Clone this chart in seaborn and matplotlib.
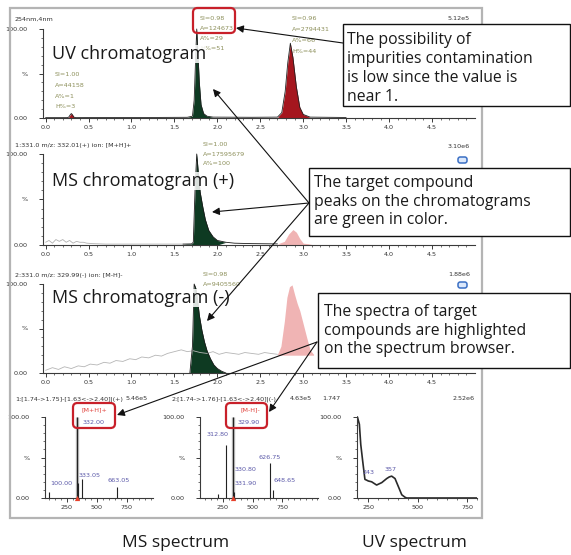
import numpy as np
import matplotlib
matplotlib.use("Agg")
import matplotlib.pyplot as plt
import seaborn as sns
from matplotlib.patches import FancyBboxPatch, Rectangle, FancyArrowPatch

# ---------------- data ----------------
time_ticks = [0.0, 0.5, 1.0, 1.5, 2.0, 2.5, 3.0, 3.5, 4.0, 4.5]
time_labels = ["0.0", "0.5", "1.0", "1.5", "2.0", "2.5", "3.0", "3.5", "4.0", "4.5"]
pct_ticks = [0, 50, 100]
pct_labels = ["0.00", "%", "100.00"]

# UV chromatogram (254 nm)
uv_time = [0.00, 0.25, 0.27, 0.29, 0.30, 0.31, 0.33, 0.35, 0.70, 1.20, 1.65, 1.71, 1.73, 1.75, 1.76,
           1.77, 1.79, 1.81, 1.84, 1.88, 1.95, 2.40, 2.70, 2.75, 2.79, 2.82, 2.85, 2.88, 2.92, 2.96,
           3.00, 3.08, 3.50]
uv_int = [0.4, 0.4, 1.0, 4.0, 5.0, 4.0, 1.0, 0.4, 0.6, 0.6, 0.8, 2.0, 20, 75, 100,
          80, 40, 15, 5, 2, 1, 0.8, 1.0, 6, 30, 62, 84, 68, 35, 12,
          4, 1, 0.6]

# MS chromatogram (+)
pos_time = [0.00, 0.04, 0.08, 0.12, 0.16, 0.20, 0.24, 0.28, 0.32, 0.36, 0.40, 0.44, 0.48, 0.55,
            0.70, 1.00, 1.30, 1.60, 1.70, 1.72, 1.74, 1.76, 1.78, 1.80, 1.83, 1.86, 1.90, 1.95,
            2.00, 2.10, 2.20, 2.40, 2.70, 2.78, 2.83, 2.88, 2.92, 2.96, 3.00, 3.10]
pos_int = [3, 5, 2, 6, 4, 6, 3, 5, 2, 4, 3, 3, 2, 1.5,
           1, 1, 1, 1, 1.2, 3, 60, 100, 78, 58, 42, 28, 16, 9,
           5, 3, 2, 1.5, 1.2, 4, 12, 17, 14, 7, 2, 1]

# MS chromatogram (-): background trace, target peak, second peak
neg_base_time = [0.00, 0.08, 0.15, 0.22, 0.30, 0.38, 0.45, 0.52, 0.60, 0.68, 0.75, 0.82, 0.90,
                 0.98, 1.05, 1.12, 1.20, 1.28, 1.35, 1.42, 1.50, 1.58, 1.65, 1.72, 1.80, 1.88,
                 1.95, 2.02, 2.10, 2.18, 2.25, 2.32, 2.40, 2.48, 2.55, 2.62, 2.70]
neg_base_int = [3, 6, 4, 7, 5, 8, 7, 10, 9, 12, 11, 14, 13,
                16, 15, 18, 17, 20, 19, 22, 24, 26, 24, 25, 23, 22,
                24, 21, 23, 22, 21, 23, 22, 21, 23, 22, 21]
neg_peak_time = [1.68, 1.71, 1.73, 1.75, 1.77, 1.79, 1.82, 1.85, 1.88, 1.92, 1.96, 2.00, 2.05, 2.10]
neg_peak_int = [0, 30, 100, 95, 82, 65, 48, 35, 25, 16, 9, 5, 2, 0]
neg_pink_time = [2.70, 2.74, 2.78, 2.81, 2.84, 2.87, 2.90, 2.93, 2.96, 3.00, 3.04, 3.08, 3.12]
neg_pink_int = [21, 30, 58, 85, 97, 99, 88, 78, 70, 55, 40, 26, 21]

# MS spectra
ms_pos_mz = [100, 332, 342, 372, 663]
ms_pos_int = [8, 100, 19, 23, 14]
ms_neg_mz = [208, 275, 338, 346, 652, 670]
ms_neg_int = [5, 65, 100, 8, 43, 10]
ms_ticks = [250, 500, 750]

# UV spectrum
uv_nm = [196, 206, 213, 223, 234, 243, 251, 268, 293, 319, 344, 357, 369, 386, 403, 420, 436, 445, 800]
uv_abs = [100, 91, 66, 45, 23, 22, 21, 20, 16, 19, 24, 26, 27, 24, 14, 4, 1, 0, 0]

# ---------------- figure ----------------
W, H = 571, 555
sns.set_theme(style="white")
plt.rcParams["font.family"] = ["DejaVu Sans"]
fig = plt.figure(figsize=(W / 100, H / 100), dpi=100)
fig.patch.set_facecolor("white")

GREEN = "#0e3a22"
RED = "#a5161e"
PINK = "#f0b4b4"
AXC = "#3a3a3a"
OLIVE = "#8c8f5a"
BLUE = "#5a58a8"
BOXRED = "#c8202a"
BIG = ["Open Sans", "DejaVu Sans"]


def P(x, y):
    return (x / W, 1 - y / H)


def add_ax(left, right, y0, y100, top_val=102.5):
    top = y0 - top_val * (y0 - y100) / 100.0
    ax = fig.add_axes([left / W, 1 - y0 / H, (right - left) / W, (y0 - top) / H])
    ax.set_ylim(0, top_val)
    ax.set_facecolor("none")
    return ax


def style(ax, xlim, xticks, xlabels, xminor):
    ax.set_xlim(*xlim)
    for s in ["top", "right"]:
        ax.spines[s].set_visible(False)
    for s in ["left", "bottom"]:
        ax.spines[s].set_color(AXC)
        ax.spines[s].set_linewidth(0.8)
    ax.spines["left"].set_bounds(0, 100)
    ax.set_xticks(xticks)
    ax.set_xticklabels(xlabels)
    ax.set_xticks(xminor, minor=True)
    ax.set_yticks(pct_ticks)
    ax.set_yticklabels(pct_labels)
    ax.set_yticks(list(range(0, 101, 10)), minor=True)
    ax.tick_params(which="major", length=3, width=0.7, color=AXC, labelsize=4.6,
                   labelcolor="#333333", left=True, bottom=True)
    ax.tick_params(which="minor", length=1.6, width=0.5, color=AXC, left=True, bottom=True)
    ax.tick_params(axis="x", pad=2)
    ax.tick_params(axis="y", pad=8)
    ax.set_xlabel("")
    ax.set_ylabel("")


def ftxt(x, y, s, **kw):
    kw.setdefault("fontsize", 4.6)
    kw.setdefault("va", "center")
    return fig.text(x / W, 1 - y / H, s, **kw)


chrom_minor = [i / 10 for i in range(0, 50)]

# ---- UV chromatogram ----
ax1 = add_ax(43, 475, 118, 29)
t = np.asarray(uv_time); y = np.asarray(uv_int)
for a, b, c in [(0.26, 0.34, RED), (1.70, 1.92, GREEN), (2.72, 3.05, RED)]:
    ax1.fill_between(t, y, 0, where=(t >= a) & (t <= b), color=c, lw=0, interpolate=True)
sns.lineplot(x=uv_time, y=uv_int, ax=ax1, color="#222222", linewidth=0.6,
             estimator=None, sort=False, legend=False)
style(ax1, (-0.03, 5.0), time_ticks, time_labels, chrom_minor)

# ---- MS chromatogram (+) ----
ax2 = add_ax(43, 475, 245, 154)
t = np.asarray(pos_time); y = np.asarray(pos_int)
ax2.fill_between(t, y, 0, where=(t >= 1.70) & (t <= 2.02), color=GREEN, lw=0, interpolate=True)
ax2.fill_between(t, y, 0, where=(t >= 2.76) & (t <= 3.02), color=PINK, lw=0, interpolate=True)
sns.lineplot(x=pos_time[:18], y=pos_int[:18], ax=ax2, color="#b0b0b0", linewidth=0.6,
             estimator=None, sort=False, legend=False)
sns.lineplot(x=pos_time[17:33], y=pos_int[17:33], ax=ax2, color="#1a1a1a", linewidth=0.6,
             estimator=None, sort=False, legend=False)
style(ax2, (-0.03, 5.0), time_ticks, time_labels, chrom_minor)

# ---- MS chromatogram (-) ----
ax3 = add_ax(43, 475, 373, 284)
sns.lineplot(x=neg_base_time, y=neg_base_int, ax=ax3, color="#b5b5b5", linewidth=0.6,
             estimator=None, sort=False, legend=False)
ax3.fill_between(neg_pink_time, neg_pink_int, np.full(len(neg_pink_time), 20.0),
                 color=PINK, lw=0)
ax3.fill_between(neg_peak_time, neg_peak_int, 0, color=GREEN, lw=0)
sns.lineplot(x=neg_peak_time, y=neg_peak_int, ax=ax3, color="#1a1a1a", linewidth=0.6,
             estimator=None, sort=False, legend=False)
style(ax3, (-0.03, 5.0), time_ticks, time_labels, chrom_minor)

# ---- MS spectrum (+) ----
ax4 = add_ax(45, 153, 498, 417)
ax4.vlines(ms_pos_mz[1], 0, ms_pos_int[1], color="#b8b8b8", lw=2.4)
ax4.vlines(ms_pos_mz, 0, ms_pos_int, color="#222222", lw=0.8)
sns.scatterplot(x=[ms_pos_mz[1]], y=[0], ax=ax4, marker="^", s=14, color="#e8402a",
                linewidth=0, clip_on=False, zorder=5, legend=False)
style(ax4, (67, 967), ms_ticks, [str(v) for v in ms_ticks], list(range(100, 951, 50)))
ax4.text(109, 18.5, "100.00", fontsize=4.6, color=BLUE, va="center")
ax4.text(350, 28, "333.05", fontsize=4.6, color=BLUE, va="center")
ax4.text(584, 22, "663.05", fontsize=4.6, color=BLUE, va="center")
ax4.text(475, 108.6, "[M+H]+", fontsize=4.6, color="#e0403a", ha="center", va="center", clip_on=False)
ax4.text(475, 92.6, "332.00", fontsize=4.6, color=BLUE, ha="center", va="center", clip_on=False)

# ---- MS spectrum (-) ----
ax5 = add_ax(200, 318, 498, 417)
ax5.vlines(ms_neg_mz[2], 0, ms_neg_int[2], color="#b8b8b8", lw=2.4)
ax5.vlines(ms_neg_mz, 0, ms_neg_int, color="#222222", lw=0.8)
sns.scatterplot(x=[ms_neg_mz[2]], y=[0], ax=ax5, marker="^", s=14, color="#e8402a",
                linewidth=0, clip_on=False, zorder=5, legend=False)
style(ax5, (55, 1055), ms_ticks, [str(v) for v in ms_ticks], list(range(100, 1051, 50)))
ax5.text(114, 78, "312.80", fontsize=4.6, color=BLUE, va="center")
ax5.text(479, 108.6, "[M-H]-", fontsize=4.6, color="#e0403a", ha="center", va="center", clip_on=False)
ax5.text(470, 92.6, "329.90", fontsize=4.6, color=BLUE, ha="center", va="center", clip_on=False)
ax5.text(352, 34.6, "330.80", fontsize=4.6, color=BLUE, va="center")
ax5.text(352, 18.5, "331.90", fontsize=4.6, color=BLUE, va="center")
ax5.text(547, 50.6, "626.75", fontsize=4.6, color=BLUE, va="center")
ax5.text(674, 21, "648.65", fontsize=4.6, color=BLUE, va="center")

# ---- UV spectrum ----
ax6 = add_ax(357, 477, 498, 417)
sns.lineplot(x=uv_nm, y=uv_abs, ax=ax6, color="#2a2a2a", linewidth=1.2,
             estimator=None, sort=False, legend=False)
style(ax6, (194, 800), ms_ticks, [str(v) for v in ms_ticks], list(range(200, 801, 50)))
ax6.text(224, 31, "243", fontsize=4.6, color=BLUE, va="center")
ax6.text(335, 35, "357", fontsize=4.6, color=BLUE, va="center")

# ---------------- screenshot frame ----------------
fig.add_artist(Rectangle(P(10, 518), 472 / W, 510 / H, transform=fig.transFigure,
                         fill=False, edgecolor="#b4b4b4", lw=1.6, zorder=1))

# headers and small texts
ftxt(15, 19, "254nm,4nm", color="#333333")
ftxt(470, 19, "5.12e5", color="#333333", ha="right")
for i, s in enumerate(["SI=1.00", "A=44158", "A%=1", "H%=3"]):
    ftxt(55, 75 + 10.5 * i, s, color=OLIVE)
for i, s in enumerate(["SI=0.98", "A=124673", "A%=29", "H%=51"]):
    ftxt(200, 18 + 10.3 * i, s, color=OLIVE)
for i, s in enumerate(["SI=0.96", "A=2794431", "A%=66", "H%=44"]):
    ftxt(292, 19 + 10.8 * i, s, color=OLIVE)

ftxt(15, 145, "1:331.0 m/z: 332.01(+) ion: [M+H]+", color="#333333")
ftxt(470, 147, "3.10e6", color="#333333", ha="right")
for i, s in enumerate(["SI=1.00", "A=17595679", "A%=100"]):
    ftxt(203, 145 + 9.3 * i, s, color=OLIVE)

ftxt(15, 275, "2:331.0 m/z: 329.99(-) ion: [M-H]-", color="#333333")
ftxt(470, 275, "1.88e6", color="#333333", ha="right")
for i, s in enumerate(["SI=0.98", "A=9405560"]):
    ftxt(203, 275 + 9.3 * i, s, color=OLIVE)

ftxt(15, 399, "1:[1.74->1.75]-[1.63<->2.40]|(+)", color="#333333")
ftxt(148, 399, "5.46e5", color="#333333", ha="right")
ftxt(172, 399, "2:[1.74->1.76]-[1.63<->2.40]|(-)", color="#333333")
ftxt(312, 399, "4.63e5", color="#333333", ha="right")
ftxt(322, 399, "1.747", color="#333333")
ftxt(475, 399, "2.52e6", color="#333333", ha="right")

# blue icons
for yy in (160, 285):
    fig.add_artist(FancyBboxPatch(P(458, yy + 3), 9 / W, 6 / H, transform=fig.transFigure,
                                  boxstyle="round,pad=0,rounding_size=0.004",
                                  facecolor="#dce8fb", edgecolor="#3a6fc4", lw=1.1, zorder=4))

# big panel labels
for yy, s in [(54, "UV chromatogram"), (181, "MS chromatogram (+)"), (298, "MS chromatogram (-)")]:
    ftxt(52, yy, s, fontsize=13, family=BIG, color="#1a1a1a", zorder=5,
         bbox=dict(facecolor="white", edgecolor="none", pad=0.0, alpha=0.85))

ftxt(176, 543, "MS spectrum", fontsize=12.5, family=BIG, color="#1a1a1a", ha="center")
ftxt(414, 543, "UV spectrum", fontsize=12.5, family=BIG, color="#1a1a1a", ha="center")

# red highlight boxes
for l, tp, r, b in [(193, 8, 235, 33), (73, 403, 115, 428), (226, 403, 267, 428)]:
    fig.add_artist(FancyBboxPatch(P(l, b), (r - l) / W, (b - tp) / H, transform=fig.transFigure,
                                  boxstyle="round,pad=0,rounding_size=0.008",
                                  fill=False, edgecolor=BOXRED, lw=1.6, zorder=8))

# callout boxes
callouts = [
    ((343, 24, 570, 106), 347, [40, 59, 78, 97],
     ["The possibility of", "impurities contamination", "is low since the value is", "near 1."]),
    ((309, 168, 570, 236), 314, [183, 202, 220],
     ["The target compound", "peaks on the chromatograms", "are green in color."]),
    ((318, 293, 570, 368), 324, [312, 331, 349],
     ["The spectra of target", "compounds are highlighted", "on the spectrum browser."]),
]
for (l, tp, r, b), tx, ys, lines in callouts:
    fig.add_artist(Rectangle(P(l, b), (r - l) / W, (b - tp) / H, transform=fig.transFigure,
                             facecolor="white", edgecolor="#111111", lw=1.0, zorder=9))
    for yy, s in zip(ys, lines):
        ftxt(tx, yy, s, fontsize=11.3, family=BIG, color="#1a1a1a", zorder=10)

# arrows
arrows = [((343, 43), (236, 28)), ((309, 203), (213, 89)), ((309, 203), (212, 212)),
          ((309, 203), (207, 321)), ((317, 342), (117, 415)), ((317, 342), (269, 412))]
for a, b in arrows:
    fig.add_artist(FancyArrowPatch(P(*a), P(*b), transform=fig.transFigure,
                                   arrowstyle="-|>", mutation_scale=11, lw=0.8,
                                   color="#111111", shrinkA=0, shrinkB=0, zorder=7))

fig.savefig("out.png", dpi=100, facecolor="white")
